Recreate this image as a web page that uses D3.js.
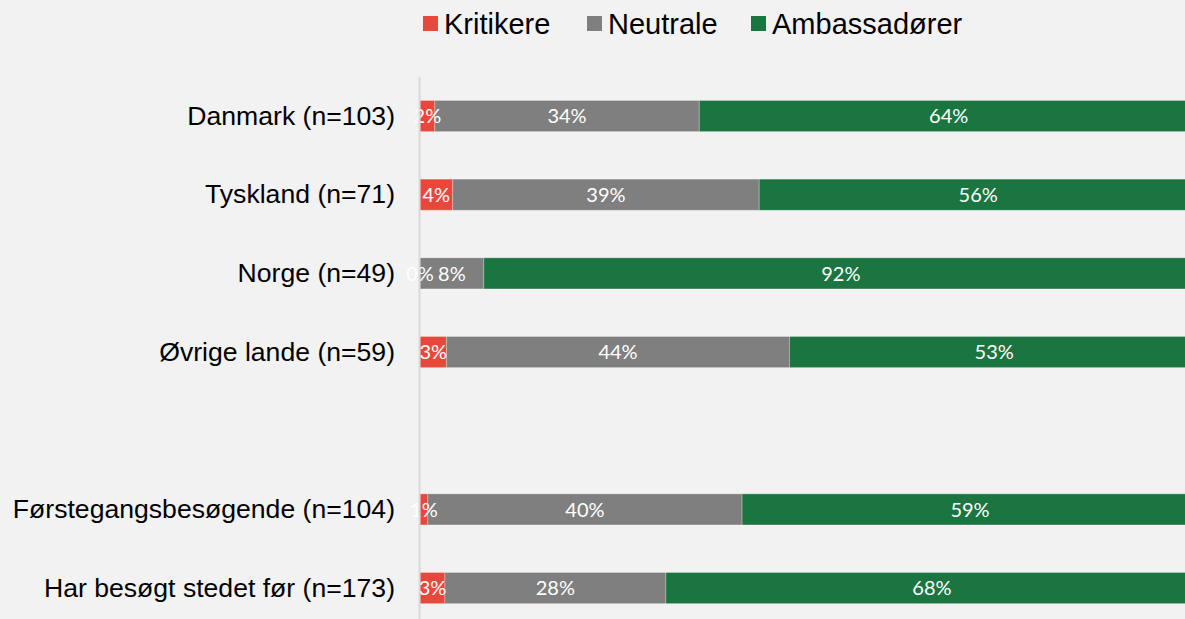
<!DOCTYPE html>
<html>
<head>
<meta charset="utf-8">
<script src="https://cdn.jsdelivr.net/npm/d3@7"></script>
<style>
  html, body { margin: 0; padding: 0; background: #f2f2f2; }
  svg { display: block; }
</style>
</head>
<body>
<svg id="chart"></svg>
<script>
// categories, top to bottom ("gap" is the empty row between the two groups)
const categories = [
  "Danmark (n=103)",
  "Tyskland (n=71)",
  "Norge (n=49)",
  "Øvrige lande (n=59)",
  "gap",
  "Førstegangsbesøgende (n=104)",
  "Har besøgt stedet før (n=173)"
];

// share of respondents in %, same order as categories
const kritikere     = [1.9, 4.2, 0.0, 3.4, null, 1.0, 3.2];
const neutrale      = [34.0, 39.4, 8.2, 44.1, null, 40.4, 28.4];
const ambassadoerer = [64.1, 56.3, 91.8, 52.6, null, 58.6, 68.4];

const seriesNames = ["Kritikere", "Neutrale", "Ambassadører"];
const seriesColors = ["#e8483c", "#7f7f7f", "#1a7540"];

(function() {
  const width = 1185,
    height = 619;

  const svg = d3.select("#chart")
    .attr("width", width)
    .attr("height", height);

  const rows = categories.map((c, i) => ({
    name: c,
    Kritikere: kritikere[i],
    Neutrale: neutrale[i],
    "Ambassadører": ambassadoerer[i]
  }));

  const x = d3.scaleLinear()
    .domain([0, 100])
    .range([420, 1198]);

  const y = d3.scaleBand()
    .domain(categories)
    .range([76.7, 627.4])
    .paddingInner(0.605)
    .paddingOuter(0.3025);

  const stack = d3.stack().keys(seriesNames);
  const layers = stack(rows.filter(d => d.name !== "gap"));

  const fmt = v => Math.round(v) + "%";

  const g = svg.append("g");

  layers.forEach((layer, li) => {
    g.selectAll(".seg-" + li)
      .data(layer)
      .enter()
      .append("rect")
      .attr("class", "seg-" + li)
      .attr("x", d => x(d[0]))
      .attr("y", d => y(d.data.name))
      .attr("width", d => x(d[1]) - x(d[0]))
      .attr("height", y.bandwidth())
      .attr("fill", seriesColors[li])
      .attr("stroke", "#ffffff")
      .attr("stroke-opacity", 0.25)
      .attr("stroke-width", 1);
  });

  layers.forEach((layer, li) => {
    g.selectAll(".lab-" + li)
      .data(layer)
      .enter()
      .append("text")
      .attr("class", "lab-" + li)
      .attr("x", d => (x(d[0]) + x(d[1])) / 2)
      .attr("y", d => y(d.data.name) + y.bandwidth() / 2)
      .attr("dy", "0.36em")
      .attr("text-anchor", "middle")
      .attr("fill", "#ffffff")
      .style("font-family", "Lato, 'Open Sans', sans-serif")
      .style("font-weight", 400)
      .style("font-size", "20px")
      .text(d => fmt(d[1] - d[0]));
  });

  const axis = svg.append("g")
    .attr("transform", "translate(419,0)")
    .call(d3.axisLeft(y)
      .tickSize(0)
      .tickSizeOuter(0)
      .tickPadding(24)
      .tickFormat(d => d === "gap" ? "" : d));

  axis.select(".domain")
    .attr("stroke", "#d9d9d9")
    .attr("stroke-width", 2);

  axis.selectAll("text")
    .attr("fill", "#000000")
    .style("font-family", "'Liberation Sans', Arial, sans-serif")
    .style("font-size", "26.6px");

  // legend
  const legendX = [423, 587, 751];
  const legend = svg.append("g");
  seriesNames.forEach((name, i) => {
    legend.append("rect")
      .attr("x", legendX[i])
      .attr("y", 16)
      .attr("width", 15)
      .attr("height", 15)
      .attr("fill", seriesColors[i]);
    legend.append("text")
      .attr("x", legendX[i] + 21)
      .attr("y", 23.5)
      .attr("dy", "0.36em")
      .attr("fill", "#000000")
      .style("font-family", "'Liberation Sans', Arial, sans-serif")
      .style("font-size", "29px")
      .text(name);
  });
})();
</script>
</body>
</html>
